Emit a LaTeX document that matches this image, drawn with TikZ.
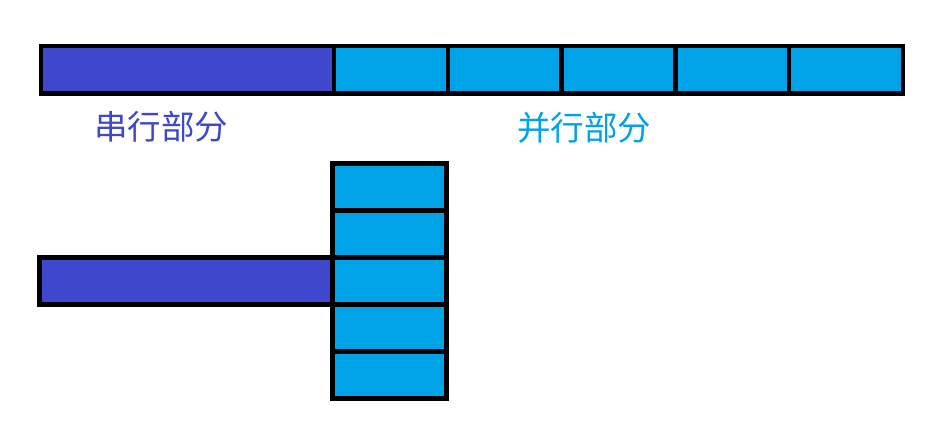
\documentclass[tikz,border=0pt]{standalone}
\usepackage{fontspec}
\newfontfamily\cjk{Noto Sans CJK SC}
\definecolor{serialc}{HTML}{3F48CC}
\definecolor{parac}{HTML}{00A2E8}
\begin{document}
\begin{tikzpicture}[x=1pt,y=-1pt,
  cell/.style={rectangle,draw=black,line width=4.5pt,inner sep=0pt,outer sep=0pt},
  sercell/.style={cell,fill=serialc,minimum width=293pt},
  parcell/.style={cell,fill=parac,minimum width=113.8pt},
  toprow/.style={minimum height=47.5pt},
  colcell/.style={parcell,minimum width=114pt,minimum height=47pt},
  lbl/.style={font=\cjk\fontsize{33.5}{40}\selectfont,inner sep=0pt}]
\useasboundingbox (0,0) rectangle (941,433);
% top row
\node[sercell,toprow] (s) at (187.5,69.75) {};
\node[parcell,toprow] (p1) at (390.9,69.75) {};
\node[parcell,toprow] (p2) at (504.7,69.75) {};
\node[parcell,toprow] (p3) at (618.5,69.75) {};
\node[parcell,toprow] (p4) at (732.3,69.75) {};
\node[parcell,toprow] (p5) at (846.1,69.75) {};
% labels
\node[lbl,text=serialc] (ls) at (161,127) {串行部分};
\node[lbl,text=parac] (lp) at (584,128) {并行部分};
% bottom
\node[sercell,minimum height=47pt] (s2) at (186,281) {};
\node[colcell] (c1) at (389.5,187) {};
\node[colcell] (c2) at (389.5,234) {};
\node[colcell] (c3) at (389.5,281) {};
\node[colcell] (c4) at (389.5,328) {};
\node[colcell] (c5) at (389.5,375) {};
\end{tikzpicture}
\end{document}
